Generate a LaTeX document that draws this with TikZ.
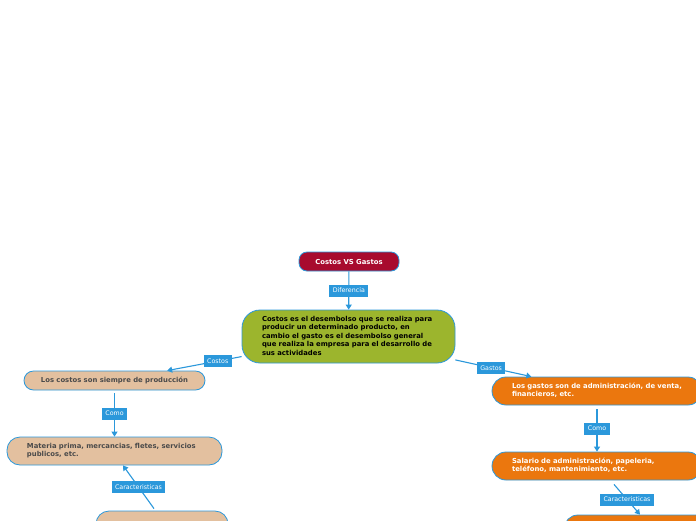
\documentclass[tikz,border=0pt]{standalone}
\usepackage{fontspec}
\setmainfont{DejaVu Sans}
\usetikzlibrary{arrows.meta}
\definecolor{lnk}{HTML}{2B98DB}
\definecolor{ttl}{HTML}{A80B2E}
\definecolor{grn}{HTML}{9CB52D}
\definecolor{tanc}{HTML}{E3C09F}
\definecolor{org}{HTML}{EB770E}
\definecolor{tantext}{HTML}{4A4A4A}
\newcommand\txtlines[1]{\begin{tabular}{@{}l@{}}#1\end{tabular}}
\begin{document}
\begin{tikzpicture}[x=1pt,y=-1pt,
 box/.style={draw=lnk,line width=0.8pt,font=\fontsize{6.85}{8.5}\selectfont\bfseries,inner sep=0pt},
 lbl/.style={fill=lnk,text=white,font=\fontsize{6.3}{6.5}\selectfont,inner xsep=3.5pt,inner ysep=0pt,minimum height=12pt},
 conn/.style={draw=lnk,line width=1.1pt,-{Triangle[width=6pt,length=5pt]}}
]
\useasboundingbox (0,0) rectangle (696,520);
\fill[white] (0,0) rectangle (696,520);
\clip (0,0) rectangle (696,520);

\node[box,fill=ttl,text=white,rounded corners=8pt,minimum width=100pt,minimum height=19pt] (title) at (349,261.5) {Costos VS Gastos};
\node[box,fill=grn,text=black,rounded corners=18pt,minimum width=213pt,minimum height=53pt,text width=173pt,align=left] (central) at (348.5,336.5)
 {\txtlines{Costos es el desembolso que se realiza para\\producir un determinado producto, en\\cambio el gasto es el desembolso general\\que realiza la empresa para el desarrollo de\\sus actividades}};

\node[box,fill=tanc,text=tantext,rounded corners=9.5pt,minimum width=181pt,minimum height=19pt] (cost1) at (114.5,380.5) {Los costos son siempre de producción};
\node[box,fill=tanc,text=tantext,rounded corners=13pt,minimum width=215pt,minimum height=28pt,text width=175pt,align=left] (cost2) at (114.5,451)
 {\txtlines{Materia prima, mercancias, fletes, servicios\\publicos, etc.}};
\node[box,fill=tanc,rounded corners=13pt,minimum width=132pt,minimum height=28pt] (cost3) at (162,525) {};

\node[box,fill=org,text=white,rounded corners=14pt,minimum width=210pt,minimum height=28pt,text width=170pt,align=left] (gas1) at (597,391)
 {\txtlines{Los gastos son de administración, de venta,\\financieros, etc.}};
\node[box,fill=org,text=white,rounded corners=14pt,minimum width=210pt,minimum height=28pt,text width=170pt,align=left] (gas2) at (597,466)
 {\txtlines{Salario de administración, papeleria,\\teléfono, mantenimiento, etc.}};
\node[box,fill=org,rounded corners=14pt,minimum width=210pt,minimum height=28pt] (gas3) at (669,529) {};

\draw[conn] (title) -- node[lbl]{Diferencia} (central);
\draw[conn] (central) -- node[lbl,pos=0.32]{Costos} (cost1);
\draw[conn] (central) -- node[lbl,pos=0.47]{Gastos} (gas1);
\draw[conn,shorten <=3pt] (cost1) -- node[lbl]{Como} (cost2);
\draw[conn,shorten <=4pt] (gas1) -- node[lbl]{Como} (gas2);
\draw[conn] ([xshift=-8pt,yshift=2pt]cost3.north) -- node[lbl]{Caracteristicas} ([xshift=8.5pt]cost2.south);
\draw[conn] ([xshift=17pt,yshift=-4pt]gas2.south) -- node[lbl]{Caracteristicas} ([xshift=-29pt]gas3.north);
\end{tikzpicture}
\end{document}
